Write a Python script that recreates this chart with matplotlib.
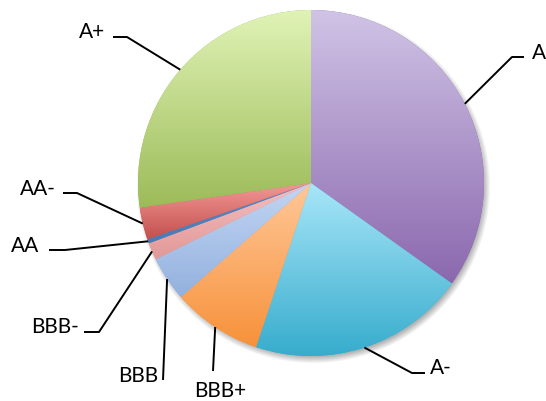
import numpy as np
import matplotlib
matplotlib.use('Agg')
import matplotlib.pyplot as plt

# ratings share, clockwise from 12 o'clock
ratings = ['A', 'A-', 'BBB+', 'BBB', 'BBB-', 'AA', 'AA-', 'A+']
shares = [34.9, 20.3, 8.4, 4.2, 1.6, 0.4, 3.0, 27.3]
top_colors = ['#D0C4E6', '#A8E6F8', '#FFC899', '#C3D6F3', '#F4C0C0', '#5A8CC8', '#F39A98', '#E0F3B6']
bottom_colors = ['#8B68AE', '#37ACCD', '#F7913A', '#93B1DE', '#E39898', '#4A7AB5', '#C4504D', '#9CBB58']

W, H = 546, 401
CX, CY, R = 311, 183, 173

# label layout (pixel coords, y down): elbow points and text baseline anchor
label_cfg = {
    'A':    dict(path=[(512, 57), (524, 57)], text=(532, 59), ha='left'),
    'A-':   dict(path=[(412, 373), (425, 373)], text=(430, 374), ha='left'),
    'BBB+': dict(path=[(213, 371)], text=(220, 397), ha='center'),
    'BBB':  dict(path=[(163, 380)], text=(158, 382), ha='right'),
    'BBB-': dict(path=[(99, 332), (84, 332)], text=(79, 333), ha='right'),
    'AA':   dict(path=[(65, 250), (49, 250)], text=(39, 252), ha='right'),
    'AA-':  dict(path=[(77, 193), (63, 193)], text=(56, 195), ha='right'),
    'A+':   dict(path=[(127, 37), (113, 37)], text=(105, 38), ha='right'),
}

plt.rcParams['font.family'] = ['Lato', 'DejaVu Sans']

fig = plt.figure(figsize=(W / 100, H / 100), dpi=100)
ax = fig.add_axes([0, 0, 1, 1])

# soft drop shadow behind the pie
yy, xx = np.mgrid[0:H, 0:W]
d = np.hypot(xx - (CX + 2), yy - (CY + 3))
alpha = 0.45 * np.clip((R + 4 - d) / 7.0, 0, 1)
shadow = np.zeros((H, W, 4))
shadow[..., :3] = 0.35
shadow[..., 3] = alpha
ax.imshow(shadow, extent=(0, W, H, 0), origin='upper', aspect='auto', zorder=0)

wedges, _ = ax.pie(shares, startangle=-90, counterclock=True, radius=R,
                   center=(CX, CY), colors=bottom_colors,
                   wedgeprops=dict(linewidth=0))

# vertical gradient inside every slice
for w, c_top, c_bot in zip(wedges, top_colors, bottom_colors):
    w.set_zorder(1)
    x0, y0, x1, y1 = w.get_path().get_extents().extents
    t = np.linspace(0, 1, 256)[:, None]
    ct = np.array(matplotlib.colors.to_rgb(c_top))
    cb = np.array(matplotlib.colors.to_rgb(c_bot))
    grad = (ct * (1 - t) + cb * t)[:, None, :]
    im = ax.imshow(grad, extent=(x0, x1, y1, y0), origin='upper',
                   aspect='auto', zorder=2, interpolation='bilinear')
    im.set_clip_path(w)

# leader lines from the middle of each slice edge
for w, name in zip(wedges, ratings):
    mid = np.deg2rad((w.theta1 + w.theta2) / 2)
    ex, ey = CX + R * np.cos(mid), CY + R * np.sin(mid)
    cfg = label_cfg[name]
    pts = [(ex, ey)] + cfg['path']
    ax.plot([p[0] for p in pts], [p[1] for p in pts], color='black', lw=1.4, zorder=3,
            solid_capstyle='butt')
    ax.text(cfg['text'][0], cfg['text'][1], name, ha=cfg['ha'], va='baseline',
            fontsize=15, color='black', zorder=4)

ax.set_xlim(0, W)
ax.set_ylim(H, 0)
ax.set_aspect('auto')
ax.axis('off')

fig.savefig('out.png', dpi=100, facecolor='white')
